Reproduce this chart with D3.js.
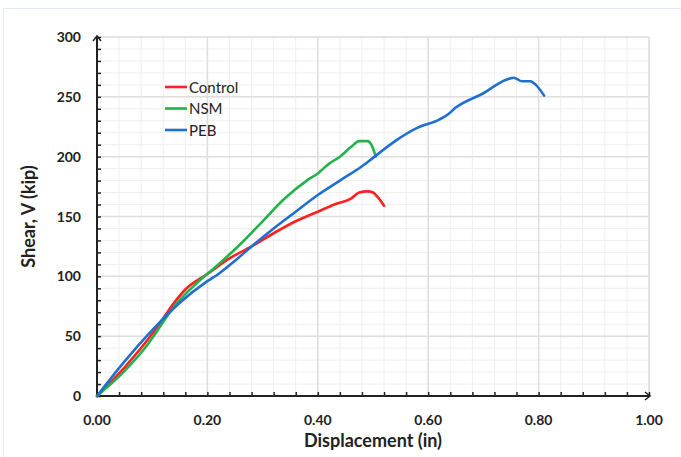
<!DOCTYPE html>
<html lang="en">
<head>
<meta charset="utf-8">
<script src="https://d3js.org/d3.v7.min.js"></script>
<style>
  body { margin: 0; background: #fff; }
  text { font-family: Lato, "Open Sans", sans-serif; }
</style>
</head>
<body>
<div id="chart"></div>
<script>
// series: [displacement (in), shear (kip)]
const control = [[0,0],[0.05,24],[0.10,52],[0.12,65],[0.14,78],[0.16,89],[0.20,102],[0.24,115],[0.28,125],
  [0.32,136],[0.36,146],[0.40,154],[0.43,160],[0.46,165],[0.475,170],[0.49,171],[0.50,170],[0.507,167],[0.52,159]];
const nsm = [[0,0],[0.05,21],[0.09,42],[0.11,55],[0.14,75],[0.18,94],[0.22,110],[0.26,127],[0.30,146],
  [0.34,165],[0.38,180],[0.40,186],[0.42,194],[0.44,200],[0.46,208],[0.475,213],[0.49,213],[0.497,210],[0.505,200]];
const peb = [[0,0],[0.05,29],[0.10,55],[0.15,78],[0.20,96],[0.22,102],[0.25,113],[0.28,125],[0.32,140],
  [0.36,154],[0.40,168],[0.44,180],[0.48,192],[0.50,199],[0.54,213],[0.58,224],[0.62,231],[0.635,235],
  [0.65,241],[0.70,253],[0.74,264],[0.755,266],[0.77,263],[0.785,263],[0.795,260],[0.81,251]];

const seriesNames = ["Control", "NSM", "PEB"];
const seriesColors = ["#ff2020", "#22b24c", "#1f6fd1"];
const xTicks = [0, 0.2, 0.4, 0.6, 0.8, 1.0];
const yTicks = [0, 50, 100, 150, 200, 250, 300];

const width = 681, height = 457;
const margin = {top: 37, right: 32, bottom: 61, left: 97};

const svg = d3.select("#chart").append("svg")
  .attr("width", width).attr("height", height);

// faint chart border
svg.append("path").attr("d", `M3.5,${height} V8.5 H${width}`)
  .attr("fill", "none").attr("stroke", "#e3eaf2").attr("stroke-width", 1);

const x = d3.scaleLinear().domain([0, 1]).range([margin.left, width - margin.right]);
const y = d3.scaleLinear().domain([0, 300]).range([height - margin.bottom, margin.top]);

// grid: minor then major
const g = svg.append("g");
g.selectAll(".vminor").data(d3.range(0, 1.0001, 0.04)).join("line")
  .attr("x1", d => x(d)).attr("x2", d => x(d)).attr("y1", y(0)).attr("y2", y(300))
  .attr("stroke", "#efefef").attr("stroke-width", 1);
g.selectAll(".hminor").data(d3.range(0, 301, 10)).join("line")
  .attr("x1", x(0)).attr("x2", x(1)).attr("y1", d => y(d)).attr("y2", d => y(d))
  .attr("stroke", "#efefef").attr("stroke-width", 1);
g.selectAll(".vmajor").data(xTicks).join("line")
  .attr("x1", d => x(d)).attr("x2", d => x(d)).attr("y1", y(0)).attr("y2", y(300))
  .attr("stroke", "#dedede").attr("stroke-width", 1.5);
g.selectAll(".hmajor").data(yTicks).join("line")
  .attr("x1", x(0)).attr("x2", x(1)).attr("y1", d => y(d)).attr("y2", d => y(d))
  .attr("stroke", "#dedede").attr("stroke-width", 1.5);

// axes with inside ticks
const xAxis = svg.append("g").attr("transform", `translate(0,${y(0)})`)
  .call(d3.axisBottom(x).tickValues(d3.range(0, 1.0001, 0.04)).tickSize(-4).tickFormat(""));
const yAxis = svg.append("g").attr("transform", `translate(${x(0)},0)`)
  .call(d3.axisLeft(y).tickValues(d3.range(0, 301, 10)).tickSize(-4).tickFormat(""));
[xAxis, yAxis].forEach(a => {
  a.select(".domain").remove();
  a.selectAll(".tick line").attr("stroke", "#222").attr("stroke-width", 1.5);
});
svg.append("line").attr("x1", x(0)).attr("x2", x(1) + 1).attr("y1", y(0)).attr("y2", y(0))
  .attr("stroke", "#222").attr("stroke-width", 2);
svg.append("line").attr("x1", x(0)).attr("x2", x(0)).attr("y1", y(0)).attr("y2", y(300) - 1)
  .attr("stroke", "#222").attr("stroke-width", 2);
// small arrow heads
svg.append("path").attr("d", `M${x(1) - 4},${y(0) - 4} L${x(1) + 1},${y(0)} L${x(1) - 4},${y(0) + 4}`)
  .attr("fill", "none").attr("stroke", "#222").attr("stroke-width", 1.5);
svg.append("path").attr("d", `M${x(0) - 4},${y(300) + 4} L${x(0)},${y(300) - 1} L${x(0) + 4},${y(300) + 4}`)
  .attr("fill", "none").attr("stroke", "#222").attr("stroke-width", 1.5);

// tick labels
svg.selectAll(".xl").data(xTicks).join("text")
  .attr("x", d => x(d)).attr("y", y(0) + 29)
  .attr("text-anchor", "middle").attr("font-size", 14).attr("font-weight", "bold").attr("fill", "#222")
  .text(d => d3.format(".2f")(d));
svg.selectAll(".yl").data(yTicks).join("text")
  .attr("x", x(0) - 16).attr("y", d => y(d) + 5)
  .attr("text-anchor", "end").attr("font-size", 14).attr("font-weight", "bold").attr("fill", "#222")
  .text(d => d);

// axis titles
svg.append("text").attr("x", (x(0) + x(1)) / 2).attr("y", 447)
  .attr("text-anchor", "middle").attr("font-size", 18).attr("font-weight", "bold").attr("fill", "#222")
  .text("Displacement (in)");
svg.append("text").attr("transform", `translate(35,${(y(0) + y(300)) / 2}) rotate(-90)`)
  .attr("text-anchor", "middle").attr("font-size", 18).attr("font-weight", "bold").attr("fill", "#222")
  .text("Shear, V (kip)");

// curves
const line = d3.line().x(d => x(d[0])).y(d => y(d[1])).curve(d3.curveMonotoneX);
[control, nsm, peb].forEach((s, i) => {
  svg.append("path").datum(s).attr("d", line)
    .attr("fill", "none").attr("stroke", seriesColors[i]).attr("stroke-width", 2.6)
    .attr("stroke-linejoin", "round").attr("stroke-linecap", "round");
});

// legend
const leg = svg.append("g").attr("transform", "translate(165,87)");
seriesNames.forEach((n, i) => {
  leg.append("line").attr("x1", 0).attr("x2", 22).attr("y1", i * 21.5).attr("y2", i * 21.5)
    .attr("stroke", seriesColors[i]).attr("stroke-width", 2.6);
  leg.append("text").attr("x", 24).attr("y", i * 21.5 + 5.5)
    .attr("font-size", 15).attr("fill", "#222").text(n);
});
</script>
</body>
</html>
